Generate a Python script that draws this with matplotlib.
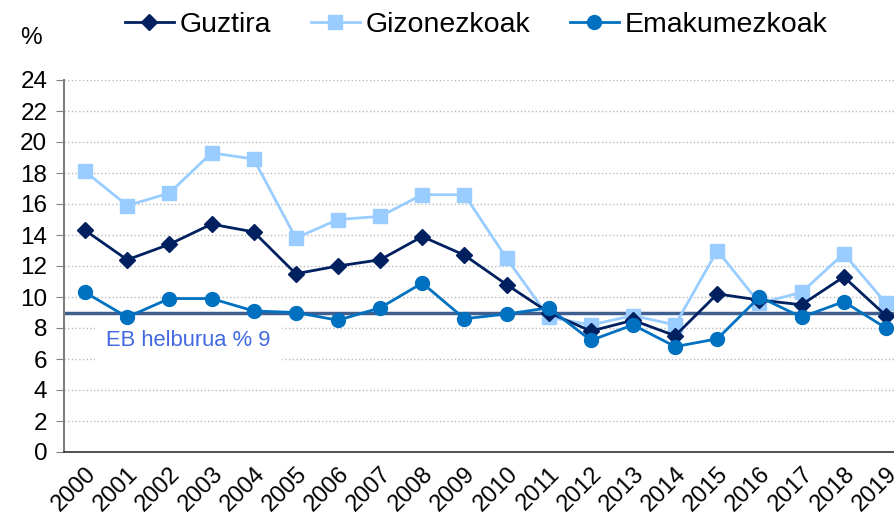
import matplotlib
matplotlib.use("Agg")
import matplotlib.pyplot as plt

plt.rcParams['font.family'] = ['Liberation Sans', 'DejaVu Sans']

years = [str(y) for y in range(2000, 2020)]
guztira = [14.3, 12.4, 13.4, 14.7, 14.2, 11.5, 12.0, 12.4, 13.9, 12.7,
           10.8, 9.0, 7.8, 8.5, 7.5, 10.2, 9.8, 9.5, 11.3, 8.8]
gizonezkoak = [18.1, 15.9, 16.7, 19.3, 18.9, 13.8, 15.0, 15.2, 16.6, 16.6,
               12.5, 8.7, 8.2, 8.8, 8.2, 13.0, 9.6, 10.3, 12.8, 9.6]
emakumezkoak = [10.3, 8.7, 9.9, 9.9, 9.1, 9.0, 8.5, 9.3, 10.9, 8.6,
                8.9, 9.3, 7.2, 8.2, 6.8, 7.3, 10.0, 8.7, 9.7, 8.0]
target = 9
yticks = list(range(0, 25, 2))

fig = plt.figure(figsize=(8.95, 5.21), dpi=100)
ax = fig.add_axes([64/895, 69/521, 843/895, 372/521])

x = list(range(len(years)))
ax.axhline(target, color='#3F5F8F', lw=2.5, zorder=2)
ax.plot(x, guztira, color='#002060', lw=2, marker='D', ms=8, label='Guztira', zorder=4)
ax.plot(x, gizonezkoak, color='#99CCFF', lw=2, marker='s', ms=10, label='Gizonezkoak', zorder=3)
ax.plot(x, emakumezkoak, color='#0070C0', lw=2, marker='o', ms=10, label='Emakumezkoak', zorder=5)

ax.set_xlim(-0.5, len(years) - 0.5)
ax.set_ylim(0, 24)
ax.set_yticks(yticks)
ax.set_yticklabels([str(v) for v in yticks], fontsize=17.5)
ax.set_xticks(x)
ax.set_xticklabels(years, rotation=45, ha='right', rotation_mode='anchor', fontsize=17)
ax.tick_params(axis='x', length=0, pad=8)
ax.tick_params(axis='y', length=6, color='#808080', pad=6)
ax.grid(axis='y', color='#BBBBBB', ls=':', lw=1)
ax.set_axisbelow(True)
for s in ['top', 'right']:
    ax.spines[s].set_visible(False)
ax.spines['left'].set_color('#808080')
ax.spines['left'].set_linewidth(1.5)
ax.spines['bottom'].set_color('#333333')
ax.spines['bottom'].set_linewidth(1.2)

ax.text(0.5, 7.2, 'EB helburua % 9', color='#4169E1', fontsize=15.8, va='center', ha='left',
        bbox=dict(facecolor='white', edgecolor='none', pad=8), zorder=3)

fig.text(31/895, 1 - 38/521, '%', fontsize=17.5, ha='center', va='center')

leg = fig.legend(loc='center', bbox_to_anchor=(476/895, 1 - 25/521), ncol=3, frameon=False,
                 fontsize=20.5, handlelength=1.72, columnspacing=1.4, handletextpad=0.2)

fig.savefig('out.png', dpi=100)
